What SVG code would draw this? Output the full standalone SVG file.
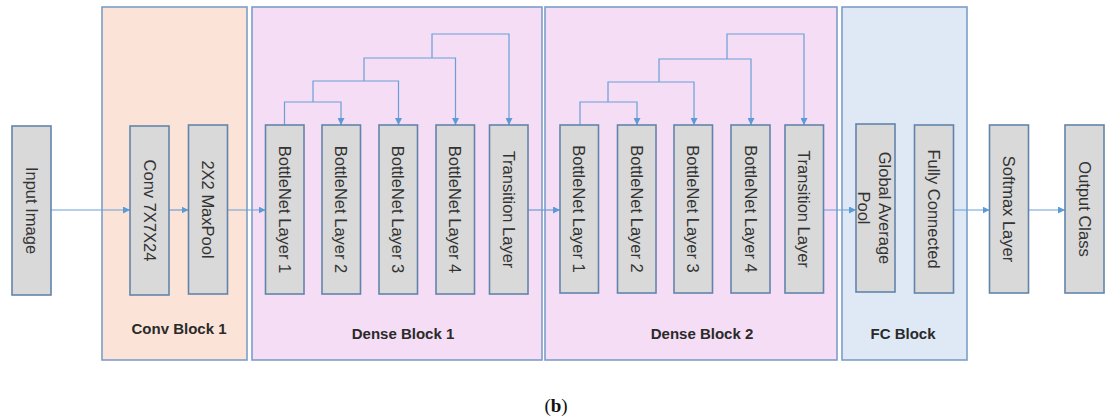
<svg xmlns="http://www.w3.org/2000/svg" width="1108" height="418" viewBox="0 0 1108 418">
<defs>
<marker id="ah" viewBox="0 0 10 10" refX="10" refY="5" markerWidth="7" markerHeight="7" markerUnits="userSpaceOnUse" orient="auto">
<path d="M0,0 L10,5 L0,10 z" fill="#5b9bd5"/>
</marker>
<style>
.blk{stroke:#7c9ec8;stroke-width:1.6}
.conv{fill:#fbe4d7}
.dense{fill:#f5ddf5}
.fc{fill:#dfe9f6}
.node{fill:#d9d9d9;stroke:#6384aa;stroke-width:1.6}
.nt{font-family:"Liberation Sans",Arial,sans-serif;font-size:16.5px;fill:#333;text-anchor:middle;dominant-baseline:central}
.bt{font-family:"Liberation Sans",Arial,sans-serif;font-size:15px;font-weight:bold;fill:#2a2a2a;text-anchor:middle}
.cn{fill:none;stroke:#6a9fd6;stroke-width:1.2}
</style>
</defs>
<rect width="1108" height="418" fill="#fff"/>

<g id="conv-block-1">
<rect class="blk conv" x="102" y="7" width="145" height="353"/>
<text class="bt" x="179" y="334">Conv Block 1</text>
</g>
<g id="dense-block-1">
<rect class="blk dense" x="252" y="7" width="290" height="353"/>
<text class="bt" x="403" y="339">Dense Block 1</text>
</g>
<g id="dense-block-2">
<rect class="blk dense" x="545" y="7" width="292" height="353"/>
<text class="bt" x="702" y="339">Dense Block 2</text>
</g>
<g id="fc-block">
<rect class="blk fc" x="842" y="7" width="125" height="353"/>
<text class="bt" x="903" y="339">FC Block</text>
</g>

<g id="connectors">
<path class="cn" d="M51,210 H130" marker-end="url(#ah)"/>
<path class="cn" d="M169,210 H188.5" marker-end="url(#ah)"/>
<path class="cn" d="M228,210 H265.5" marker-end="url(#ah)"/>
<path class="cn" d="M528,210 H560" marker-end="url(#ah)"/>
<path class="cn" d="M823,210 H856" marker-end="url(#ah)"/>
<path class="cn" d="M953,210 H989.5" marker-end="url(#ah)"/>
<path class="cn" d="M1028,210 H1065" marker-end="url(#ah)"/>

<path class="cn" d="M284.5,125 V102 H341 V125" marker-end="url(#ah)"/>
<path class="cn" d="M313,102 V81 H398.5 V125" marker-end="url(#ah)"/>
<path class="cn" d="M364,81 V58 H455.5 V125" marker-end="url(#ah)"/>
<path class="cn" d="M432,58 V34 H509 V125" marker-end="url(#ah)"/>

<path class="cn" d="M580,125 V102 H637 V125" marker-end="url(#ah)"/>
<path class="cn" d="M608,102 V82 H694 V125" marker-end="url(#ah)"/>
<path class="cn" d="M659,82 V59 H751 V125" marker-end="url(#ah)"/>
<path class="cn" d="M727,59 V34 H804 V125" marker-end="url(#ah)"/>
</g>

<g id="input-image">
<rect class="node" x="12" y="126" width="39" height="169"/>
<text class="nt" transform="translate(31.5,210.5) rotate(90)">Input Image</text>
</g>
<g id="conv-7x7x24">
<rect class="node" x="130" y="126" width="39" height="169"/>
<text class="nt" transform="translate(149.5,210.5) rotate(90)">Conv 7X7X24</text>
</g>
<g id="maxpool">
<rect class="node" x="188.5" y="125" width="39" height="169"/>
<text class="nt" transform="translate(208,209.5) rotate(90)">2X2 MaxPool</text>
</g>

<g id="d1-bn1">
<rect class="node" x="265.5" y="125" width="38.5" height="169"/>
<text class="nt" transform="translate(284.7,209.5) rotate(90)">BottleNet Layer 1</text>
</g>
<g id="d1-bn2">
<rect class="node" x="322" y="125" width="38.5" height="169"/>
<text class="nt" transform="translate(341.2,209.5) rotate(90)">BottleNet Layer 2</text>
</g>
<g id="d1-bn3">
<rect class="node" x="379" y="125" width="38.5" height="169"/>
<text class="nt" transform="translate(398.2,209.5) rotate(90)">BottleNet Layer 3</text>
</g>
<g id="d1-bn4">
<rect class="node" x="436" y="125" width="38.5" height="169"/>
<text class="nt" transform="translate(455.2,209.5) rotate(90)">BottleNet Layer 4</text>
</g>
<g id="d1-transition">
<rect class="node" x="489.5" y="125" width="38.5" height="169"/>
<text class="nt" transform="translate(508.7,209.5) rotate(90)">Transition Layer</text>
</g>

<g id="d2-bn1">
<rect class="node" x="560" y="125" width="38.5" height="168"/>
<text class="nt" transform="translate(579.2,209) rotate(90)">BottleNet Layer 1</text>
</g>
<g id="d2-bn2">
<rect class="node" x="617.5" y="125" width="38.5" height="168"/>
<text class="nt" transform="translate(636.7,209) rotate(90)">BottleNet Layer 2</text>
</g>
<g id="d2-bn3">
<rect class="node" x="674" y="125" width="38.5" height="168"/>
<text class="nt" transform="translate(693.2,209) rotate(90)">BottleNet Layer 3</text>
</g>
<g id="d2-bn4">
<rect class="node" x="731" y="125" width="39" height="168"/>
<text class="nt" transform="translate(750.5,209) rotate(90)">BottleNet Layer 4</text>
</g>
<g id="d2-transition">
<rect class="node" x="785" y="125" width="38.5" height="168"/>
<text class="nt" transform="translate(804.2,209) rotate(90)">Transition Layer</text>
</g>

<g id="global-average-pool">
<rect class="node" x="856" y="124" width="39" height="168"/>
<text class="nt" transform="translate(884.5,208) rotate(90)">Global Average</text>
<text class="nt" transform="translate(863.5,208) rotate(90)">Pool</text>
</g>
<g id="fully-connected">
<rect class="node" x="914.5" y="125" width="39" height="168"/>
<text class="nt" transform="translate(934,209) rotate(90)">Fully Connected</text>
</g>
<g id="softmax-layer">
<rect class="node" x="989.5" y="125" width="39" height="168"/>
<text class="nt" transform="translate(1009,209) rotate(90)">Softmax Layer</text>
</g>
<g id="output-class">
<rect class="node" x="1065" y="125" width="39" height="168"/>
<text class="nt" transform="translate(1084.5,209) rotate(90)">Output Class</text>
</g>

<text x="556" y="412" font-family="Liberation Serif,'Times New Roman',serif" font-size="19" fill="#111" text-anchor="middle">(<tspan font-weight="bold">b</tspan>)</text>
</svg>
